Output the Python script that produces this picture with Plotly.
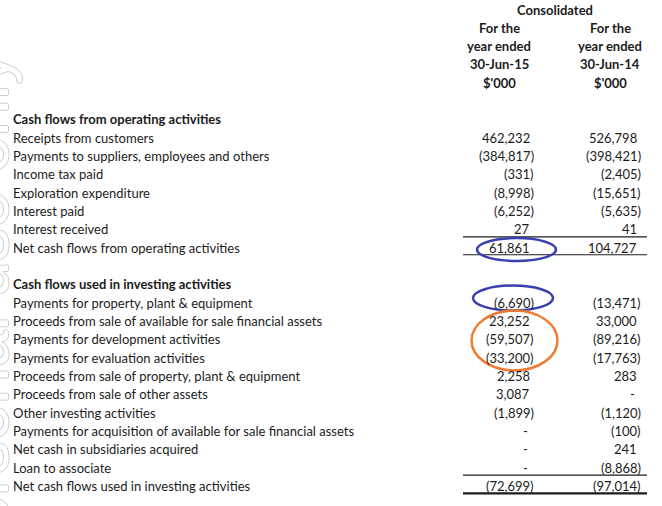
import plotly.graph_objects as go

# ==========================================
# Data (values in $'000)
# ==========================================

group_header = "Consolidated"
col_header_2015 = ["For the", "year ended", "30-Jun-15", "$'000"]
col_header_2014 = ["For the", "year ended", "30-Jun-14", "$'000"]

operating_title = "Cash flows from operating activities"
operating_labels = [
    "Receipts from customers",
    "Payments to suppliers, employees and others",
    "Income tax paid",
    "Exploration expenditure",
    "Interest paid",
    "Interest received",
    "Net cash flows from operating activities",
]
operating_2015 = [462232, -384817, -331, -8998, -6252, 27, 61861]
operating_2014 = [526798, -398421, -2405, -15651, -5635, 41, 104727]

investing_title = "Cash flows used in investing activities"
investing_labels = [
    "Payments for property, plant & equipment",
    "Proceeds from sale of available for sale financial assets",
    "Payments for development activities",
    "Payments for evaluation activities",
    "Proceeds from sale of property, plant & equipment",
    "Proceeds from sale of other assets",
    "Other investing activities",
    "Payments for acquisition of available for sale financial assets",
    "Net cash in subsidiaries acquired",
    "Loan to associate",
    "Net cash flows used in investing activities",
]
investing_2015 = [-6690, 23252, -59507, -33200, 2258, 3087, -1899, None, None, None, -72699]
investing_2014 = [-13471, 33000, -89216, -17763, 283, None, -1120, -100, 241, -8868, -97014]

watermark = "For personal use only"

# ==========================================
# Layout constants
# ==========================================

W, H = 662, 506
ROW_PX = 18.33
FIRST_ROW_PX = 9.5
FONT = "Lato"
INK = "#1c1c1c"
FS = 13

LABEL_X = 11
COL_RIGHT = [535.5, 642.5]      # right edge incl. closing bracket
COL_CENTER = [499, 610]
PAREN_PAD = 3.5
RULE_X = [463, 647]

OP_START = 6      # row of the operating title
INV_START = 15    # row of the investing title


def fmt(v):
    if v is None:
        return "-"
    if v < 0:
        return f"({abs(v):,})"
    return f"{v:,}"


def value_x(col, v):
    if v is None:
        return COL_RIGHT[col] - 6
    if v < 0:
        return COL_RIGHT[col]
    return COL_RIGHT[col] - PAREN_PAD


def px_to_row(py):
    return (py - FIRST_ROW_PX) / ROW_PX


annotations = []

# faint outlined watermark on the left edge, mostly outside the page
WM = "#cdcdcd"
annotations.append(dict(
    x=23, y=px_to_row(50), xref="x", yref="y", text=watermark, textangle=-90,
    showarrow=False, xanchor="right", yanchor="top",
    font=dict(family="Liberation Sans", size=66, color="white",
              shadow=f"1px 0 {WM}, -1px 0 {WM}, 0 1px {WM}, 0 -1px {WM}"),
))


def add_text(x, row, text, anchor="left", bold=False):
    annotations.append(dict(
        x=x, y=row, xref="x", yref="y", text=f"<b>{text}</b>" if bold else text,
        showarrow=False, xanchor=anchor, yanchor="middle",
        font=dict(family=FONT, size=FS, color=INK),
    ))


# header block
add_text(sum(COL_CENTER) / 2, 0, group_header, anchor="center", bold=True)
for i, (a, b) in enumerate(zip(col_header_2015, col_header_2014), start=1):
    add_text(COL_CENTER[0], i, a, anchor="center", bold=True)
    add_text(COL_CENTER[1], i, b, anchor="center", bold=True)

# sections
for start, title, labels, v15, v14 in [
    (OP_START, operating_title, operating_labels, operating_2015, operating_2014),
    (INV_START, investing_title, investing_labels, investing_2015, investing_2014),
]:
    add_text(LABEL_X, start, title, bold=True)
    for j, (lab, a, b) in enumerate(zip(labels, v15, v14), start=start + 1):
        add_text(LABEL_X, j, lab)
        add_text(value_x(0, a), j, fmt(a), anchor="right")
        add_text(value_x(1, b), j, fmt(b), anchor="right")

fig = go.Figure()

# total rules (above and below each net line)
op_total = OP_START + len(operating_labels)
inv_total = INV_START + len(investing_labels)
for row, width in [(op_total - 0.6, 1.2), (op_total + 0.38, 1.2),
                   (inv_total - 0.6, 1.2), (inv_total + 0.4, 2.2)]:
    fig.add_trace(go.Scatter(
        x=RULE_X, y=[row, row], mode="lines",
        line=dict(color=INK, width=width), showlegend=False, hoverinfo="skip",
    ))

# hand-drawn highlight ellipses
BLUE = "#3a3fae"
ORANGE = "#ee7d31"
shapes = [
    dict(type="circle", xref="x", yref="y", x0=477, x1=556, y0=12.47, y1=13.72,
         line=dict(color=BLUE, width=2.5)),
    dict(type="circle", xref="x", yref="y", x0=473, x1=553, y0=15.06, y1=16.42,
         line=dict(color=BLUE, width=2.5)),
    dict(type="circle", xref="x", yref="y", x0=471.5, x1=557.5, y0=16.42, y1=19.69,
         line=dict(color=ORANGE, width=2.5)),
]

y_min = -FIRST_ROW_PX / ROW_PX
y_max = y_min + H / ROW_PX

fig.update_layout(
    width=W, height=H,
    margin=dict(l=0, r=0, t=0, b=0),
    paper_bgcolor="white", plot_bgcolor="white",
    xaxis=dict(range=[0, W], visible=False, fixedrange=True),
    yaxis=dict(range=[y_max, y_min], visible=False, fixedrange=True),
    annotations=annotations,
    shapes=shapes,
    showlegend=False,
)

# the page body has a default 8px margin; drop it so the figure fills the window
fig.write_html("out.html", config={"displayModeBar": False},
               post_script="document.body.style.margin = '0';")
